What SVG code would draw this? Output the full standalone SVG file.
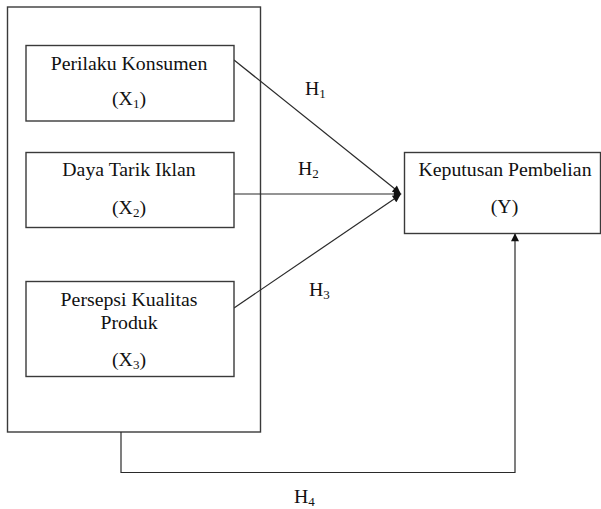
<svg xmlns="http://www.w3.org/2000/svg" width="601" height="509" viewBox="0 0 601 509">
<style>
.box{fill:#fff;stroke:#3a3a3a;stroke-width:1.4}
.ln{fill:none;stroke:#2a2a2a;stroke-width:1.2}
text{font-family:"Liberation Serif","Times New Roman",serif;font-size:19.8px;fill:#111;text-anchor:middle}
.sub{font-size:13px}
.h{text-anchor:start}
</style>
<defs>
<marker id="ah" viewBox="0 0 10 10" refX="9" refY="5" markerWidth="9" markerHeight="8" markerUnits="userSpaceOnUse" orient="auto">
<path d="M0,0 L10,5 L0,10 z" fill="#111"/>
</marker>
</defs>
<g id="outer"><rect class="box" x="7.5" y="7" width="253" height="425"/></g>
<g id="connectors">
<line class="ln" x1="234" y1="60" x2="400" y2="193" marker-end="url(#ah)"/>
<line class="ln" x1="234" y1="194" x2="401" y2="194" marker-end="url(#ah)"/>
<line class="ln" x1="234" y1="308" x2="400" y2="195" marker-end="url(#ah)"/>
<polyline class="ln" points="121,432 121,472.5 515,472.5 515,234" marker-end="url(#ah)"/>
</g>
<g id="x1"><rect class="box" x="26" y="45.5" width="208" height="75.5"/>
<text x="129" y="69.5">Perilaku Konsumen</text>
<text x="129" y="105">(X<tspan class="sub" dy="3">1</tspan><tspan dy="-3">)</tspan></text></g>
<g id="x2"><rect class="box" x="26" y="152.5" width="208" height="75"/>
<text x="129" y="176">Daya Tarik Iklan</text>
<text x="129" y="214">(X<tspan class="sub" dy="3">2</tspan><tspan dy="-3">)</tspan></text></g>
<g id="x3"><rect class="box" x="26" y="281.5" width="208" height="95"/>
<text x="129" y="305.5">Persepsi Kualitas</text>
<text x="129" y="329">Produk</text>
<text x="129" y="366">(X<tspan class="sub" dy="3">3</tspan><tspan dy="-3">)</tspan></text></g>
<g id="y"><rect class="box" x="404.5" y="152.5" width="196" height="81"/>
<text x="505" y="175.5">Keputusan Pembelian</text>
<text x="504.5" y="213">(Y)</text></g>
<g id="labels">
<text class="h" x="305" y="95">H<tspan class="sub" dy="3">1</tspan></text>
<text class="h" x="298" y="175">H<tspan class="sub" dy="3">2</tspan></text>
<text class="h" x="309" y="296">H<tspan class="sub" dy="3">3</tspan></text>
<text class="h" x="294" y="502.5">H<tspan class="sub" dy="3">4</tspan></text>
</g>
</svg>
